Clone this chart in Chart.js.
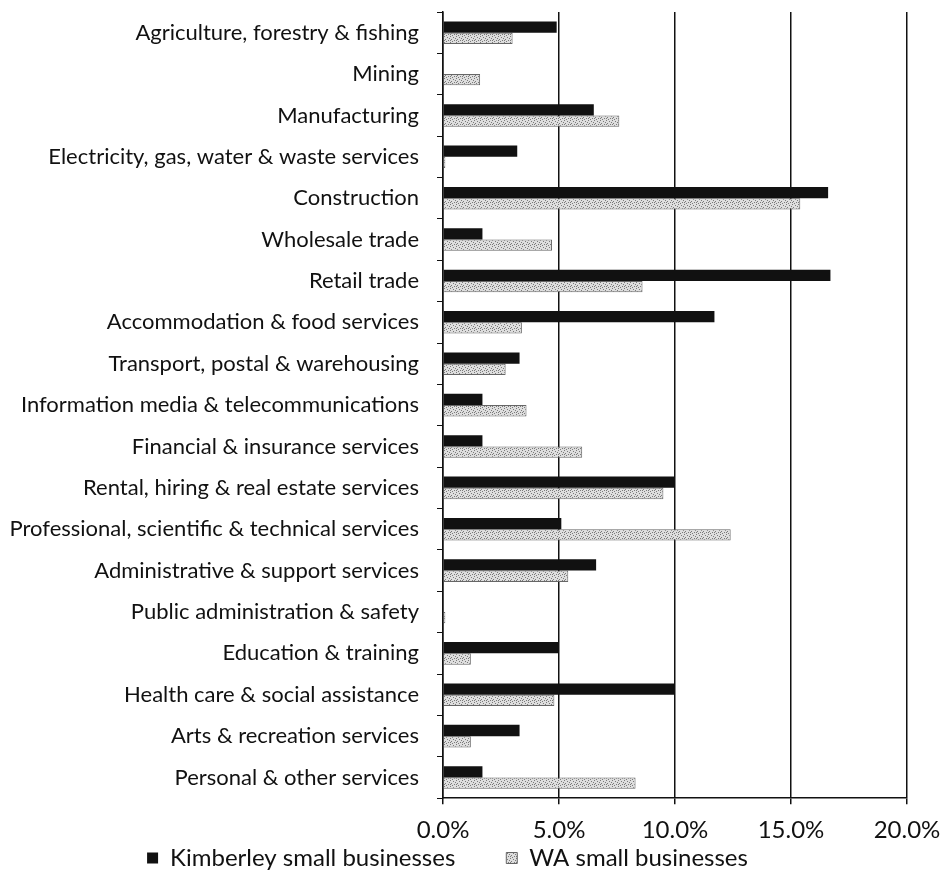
<!DOCTYPE html>
<html>
<head>
<meta charset="utf-8">
<script src="https://cdn.jsdelivr.net/npm/chart.js@4"></script>
<style>
html,body{margin:0;padding:0;background:#fff;}
#wrap{width:946px;height:878px;}
</style>
</head>
<body>
<div id="wrap"><canvas id="c" width="946" height="878"></canvas></div>
<script>
const categories = [
  "Agriculture, forestry & fishing",
  "Mining",
  "Manufacturing",
  "Electricity, gas, water & waste services",
  "Construction",
  "Wholesale trade",
  "Retail trade",
  "Accommodation & food services",
  "Transport, postal & warehousing",
  "Information media & telecommunications",
  "Financial & insurance services",
  "Rental, hiring & real estate services",
  "Professional, scientific & technical services",
  "Administrative & support services",
  "Public administration & safety",
  "Education & training",
  "Health care & social assistance",
  "Arts & recreation services",
  "Personal & other services"
];
const kimberley = [4.9, 0, 6.5, 3.2, 16.6, 1.7, 16.7, 11.7, 3.3, 1.7, 1.7, 10.0, 5.1, 6.6, 0, 5.0, 10.0, 3.3, 1.7];
const waSmall  = [3.0, 1.6, 7.6, 0.1, 15.4, 4.7, 8.6, 3.4, 2.7, 3.6, 6.0, 9.5, 12.4, 5.4, 0.1, 1.2, 4.8, 1.2, 8.3];
const seriesNames = ["Kimberley small businesses", "WA small businesses"];
const xTicks = [0, 5, 10, 15, 20];

// speckled light-grey fill for the WA series
function makePattern() {
  const p = document.createElement('canvas');
  p.width = 6; p.height = 6;
  const g = p.getContext('2d');
  g.fillStyle = '#dedede';
  g.fillRect(0, 0, 6, 6);
  g.fillStyle = '#7a7a7a';
  const dots = [[0,0],[3,1],[1,3],[4,4],[5,2],[2,5],[0,4]];
  dots.forEach(d => g.fillRect(d[0], d[1], 1, 1));
  return g.createPattern(p, 'repeat');
}
const ctx = document.getElementById('c').getContext('2d');
const pattern = makePattern();
const FONT = 'Lato';
const FS = 22;   // category labels
const FS2 = 24;  // tick labels and legend

const legendTweak = {
  id: 'legendTweak',
  beforeInit(chart) {
    const lg = chart.legend;
    if (!lg) return;
    const origFit = lg.fit.bind(lg);
    lg.fit = function () { origFit(); this.height = 21; };
  },
  beforeDraw(chart) {
    const lg = chart.legend;
    if (lg && !lg._shifted) {
      lg.left -= 6; lg.right -= 6;
      lg.top -= 62;
      lg._shifted = true;
    }
  }
};

new Chart(ctx, {
  type: 'bar',
  data: {
    labels: categories,
    datasets: [
      { label: seriesNames[0], data: kimberley, backgroundColor: '#111111', borderWidth: 0,
        categoryPercentage: 0.545, barPercentage: 1.0 },
      { label: seriesNames[1], data: waSmall, backgroundColor: pattern, borderColor: '#666666', borderWidth: 1,
        categoryPercentage: 0.545, barPercentage: 1.0 }
    ]
  },
  options: {
    indexAxis: 'y',
    responsive: false,
    animation: false,
    layout: { padding: { left: 0, right: 39, top: 12, bottom: 0 } },
    plugins: {
      legend: {
        position: 'bottom',
        labels: { font: { family: FONT, size: FS2 }, color: '#111', boxWidth: 11, boxHeight: 11, padding: 51 }
      },
      tooltip: { enabled: false }
    },
    scales: {
      x: {
        min: 0, max: 20,
        afterBuildTicks(scale) { scale.ticks = xTicks.map(v => ({ value: v })); },
        afterFit(scale) { scale.paddingLeft = 0; scale.paddingRight = 0; },
        ticks: { font: { family: FONT, size: FS2 }, color: '#111', padding: 12,
                 callback: v => Number(v).toFixed(1) + '%' },
        grid: { color: '#111', lineWidth: 1.5, tickLength: 6, drawTicks: true },
        border: { color: '#111', width: 1.5 }
      },
      y: {
        afterFit(scale) { scale.width = 443; scale.paddingTop = 0; scale.paddingBottom = 0; },
        ticks: { font: { family: FONT, size: FS }, color: '#111', padding: 18, autoSkip: false },
        grid: { drawOnChartArea: false, color: '#111', tickLength: 6, offset: true },
        border: { color: '#111', width: 1.5 }
      }
    }
  },
  plugins: [legendTweak]
});
</script>
</body>
</html>
